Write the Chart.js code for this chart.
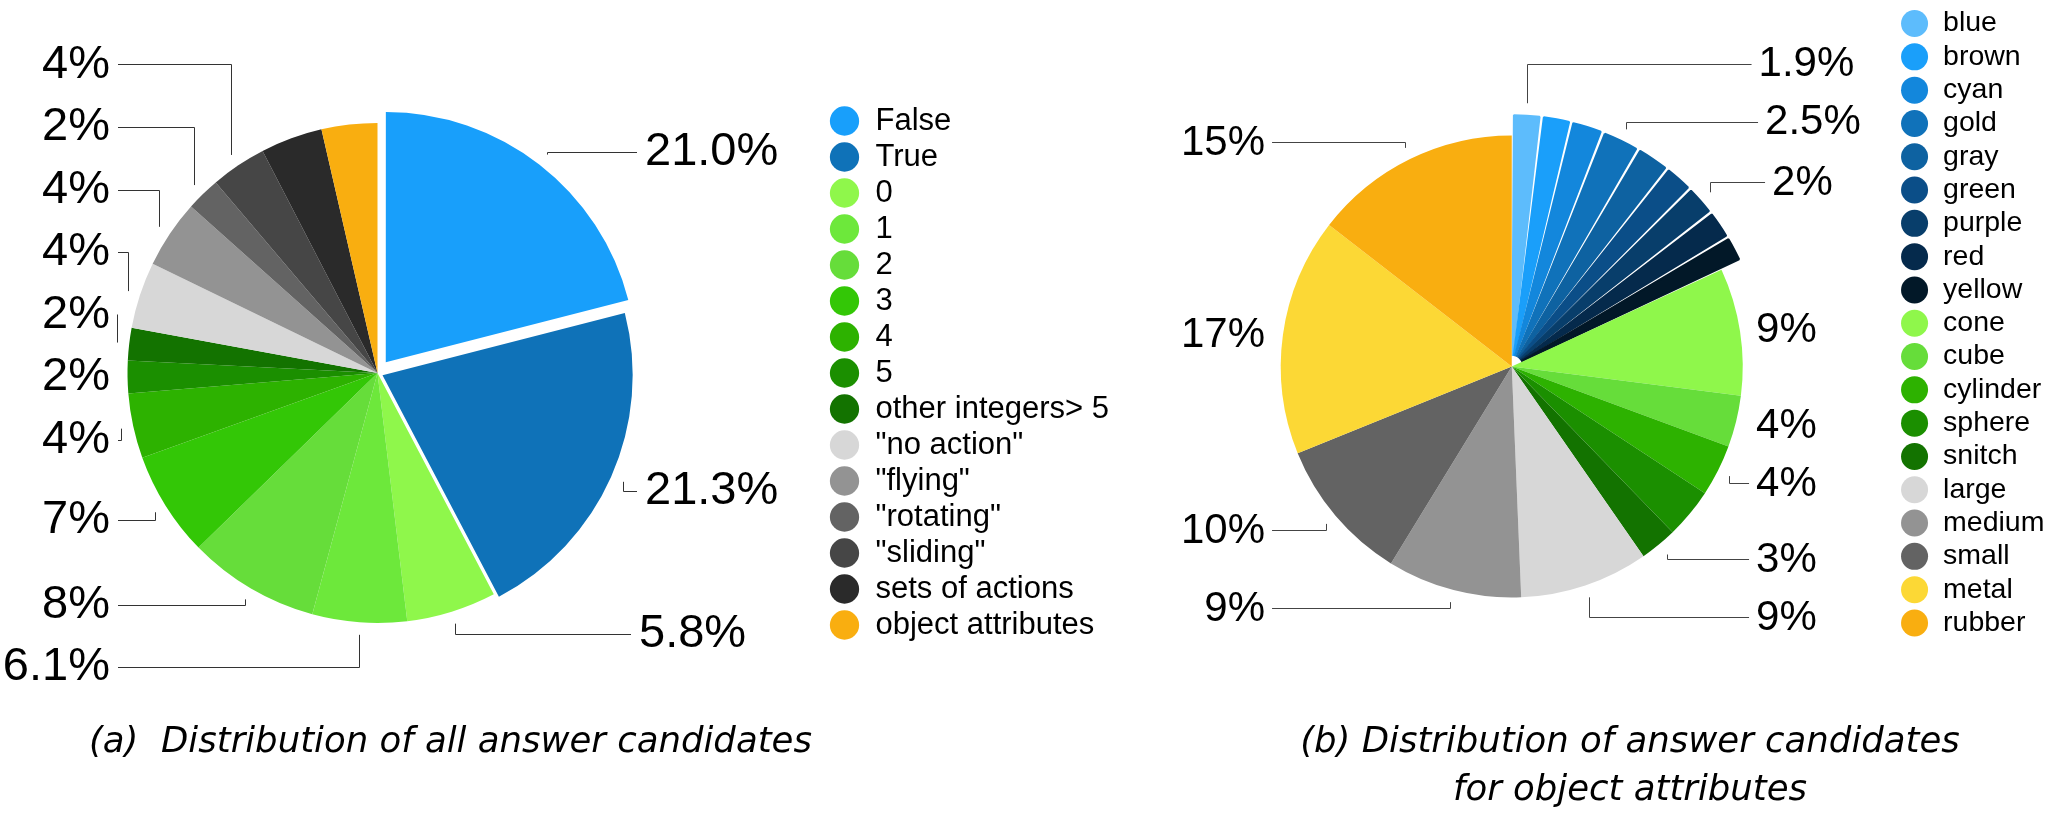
<!DOCTYPE html>
<html>
<head>
<meta charset="utf-8">
<script src="https://cdn.jsdelivr.net/npm/chart.js@4.4.1/dist/chart.umd.min.js"></script>
<style>
  html, body { margin: 0; padding: 0; background: #fff; }
  body { width: 2060px; height: 818px; position: relative; overflow: hidden; }
  #chartA { position: absolute; left: -69px; top: 0; }
  #chartB { position: absolute; left: 1128px; top: 0; }
  .cap { position: absolute; font-family: "DejaVu Sans", sans-serif; font-style: italic;
         font-size: 35.5px; line-height: 48px; color: #000; white-space: pre; }
</style>
</head>
<body>
<canvas id="chartA" width="1200" height="746"></canvas>
<canvas id="chartB" width="932" height="729"></canvas>
<div class="cap" style="left:89px; top:716px;">(a)  Distribution of all answer candidates</div>
<div class="cap" style="left:1230px; width:800px; text-align:center; top:716px;">(b) Distribution of answer candidates
for object attributes</div>
<script>
const FONT = '"Liberation Sans", Arial, Helvetica, sans-serif';

// ---------- (a) all answer candidates ----------
const answerCategories = ['False', 'True', '0', '1', '2', '3', '4', '5', 'other integers> 5',
  '"no action"', '"flying"', '"rotating"', '"sliding"', 'sets of actions', 'object attributes'];
const answerShares = [21.0, 21.3, 5.8, 6.1, 8.5, 6.8, 4.2, 2.1, 2.1, 4.3, 4.4, 2.2, 3.6, 4.0, 3.6];
const answerLabelTexts = ['21.0%', '21.3%', '5.8%', '6.1%', '8%', '7%', '4%', '2%', '2%', '4%', '4%', '2%', '4%', '', ''];
const answerColors = ['#189ffb', '#0f72b8', '#8ff74b', '#6de83b', '#66dd3a', '#33c706', '#2db200', '#1b8f00',
  '#137300', '#d7d7d7', '#939393', '#636363', '#464646', '#2a2a2a', '#f9ae10'];

// ---------- (b) object attribute candidates ----------
const attrCategories = ['blue', 'brown', 'cyan', 'gold', 'gray', 'green', 'purple', 'red', 'yellow',
  'cone', 'cube', 'cylinder', 'sphere', 'snitch', 'large', 'medium', 'small', 'metal', 'rubber'];
const attrShares = [1.9, 1.9, 2.1, 2.5, 2.2, 1.9, 2.0, 1.9, 1.7, 8.9, 3.6, 3.6, 3.5, 2.6, 9.0, 9.4, 10.1, 16.6, 14.5];
const attrLabelTexts = ['1.9%', '', '', '2.5%', '', '', '2%', '', '', '9%', '4%', '4%', '', '3%', '9%', '9%', '10%', '17%', '15%'];
const attrColors = ['#5dbcfc', '#1a9ffa', '#1387dc', '#1072ba', '#0e62a1', '#0b4e88', '#083e6b', '#052a4c', '#021828',
  '#8ff74b', '#66dd3a', '#2db200', '#1b8f00', '#137300', '#d7d7d7', '#939393', '#636363', '#fcd835', '#f9ae10'];

// label placement (annotation layout, relative to the pie centre)
const answerLabelLayout = [
  {i: 0, dx: 267.5, dy: -220.5},
  {i: 1, dx: 267.5, dy: 118.5},
  {i: 2, dx: 261.5, dy: 261.5},
  {i: 3, dx: -267.5, dy: 294.5},
  {i: 4, dx: -267.5, dy: 232.5},
  {i: 5, dx: -267.5, dy: 147.5},
  {i: 6, dx: -267.5, dy: 67.5},
  {i: 7, dx: -267.5, dy: 4.5, leader: false},
  {i: 8, dx: -267.5, dy: -57.5},
  {i: 9, dx: -267.5, dy: -120.5},
  {i: 10, dx: -267.5, dy: -182.5},
  {i: 11, dx: -267.5, dy: -245.5},
  {i: 12, dx: -267.5, dy: -307.8}
];
const attrLabelLayout = [
  {i: 0, dx: 246.8, dy: -301.8},
  {i: 3, dx: 253.3, dy: -243.7},
  {i: 6, dx: 260.3, dy: -183.5},
  {i: 9, dx: 244.3, dy: -36.5, leader: false},
  {i: 10, dx: 244.3, dy: 59.5, leader: false},
  {i: 11, dx: 244.3, dy: 117.5},
  {i: 13, dx: 244.3, dy: 193.5},
  {i: 14, dx: 244.3, dy: 251.5},
  {i: 15, dx: -246.7, dy: 242.5},
  {i: 16, dx: -246.7, dy: 164.5},
  {i: 17, dx: -246.7, dy: -31.5, leader: false},
  {i: 18, dx: -246.7, dy: -223.5}
];

const sliceLabels = {
  id: 'sliceLabels',
  afterDatasetsDraw(chart, args, opts) {
    const ctx = chart.ctx;
    const meta = chart.getDatasetMeta(0);
    ctx.save();
    ctx.font = opts.fontSize + 'px ' + FONT;
    ctx.fillStyle = '#000';
    ctx.textBaseline = 'middle';
    ctx.strokeStyle = opts.lineColor;
    ctx.lineWidth = opts.lineWidth;
    const snap = v => Math.round(v) + 0.5;
    opts.layout.forEach(item => {
      const arc = meta.data[item.i];
      const text = opts.texts[item.i];
      if (!arc || !text) return;
      const mid = (arc.startAngle + arc.endAngle) / 2;
      const off = (arc.options.offset || 0) / 4;
      const circ = arc.endAngle - arc.startAngle;
      const fix = 1 - Math.sin(Math.min(Math.PI, circ));
      const dist = off + arc.outerRadius + off * fix + opts.gap;
      const ex = arc.x + Math.cos(mid) * dist;
      const ey = arc.y + Math.sin(mid) * dist;
      const tx = arc.x + item.dx;
      const ty = arc.y + item.dy;
      const left = item.dx < 0;
      ctx.textAlign = left ? 'right' : 'left';
      ctx.fillText(text, tx, ty);
      if (item.leader === false) return;
      const ly = ty - 1;
      const lineEdge = left ? tx + opts.textGap : tx - opts.textGap;
      ctx.beginPath();
      const horiz = left ? (ex > lineEdge + 1) : (ex < lineEdge - 1);
      if (horiz) {
        ctx.moveTo(lineEdge, snap(ly));
        ctx.lineTo(snap(ex), snap(ly));
        ctx.lineTo(snap(ex), ey);
      } else {
        ctx.moveTo(snap(ex), ey);
        ctx.lineTo(snap(ex), ly);
      }
      ctx.stroke();
    });
    ctx.restore();
  }
};

function legendItems(chart) {
  const ds = chart.data.datasets[0];
  return chart.data.labels.map((text, i) => ({
    text: text,
    fillStyle: ds.backgroundColor[i],
    strokeStyle: ds.backgroundColor[i],
    lineWidth: 0,
    pointStyle: 'circle',
    hidden: false,
    index: i,
    datasetIndex: 0,
    fontColor: '#000',
    textAlign: 'left'
  }));
}

// width Chart.js will give a one-column legend (used to place the pie centre)
function legendBoxWidth(labels, size, boxWidth, pad) {
  const c = document.createElement('canvas').getContext('2d');
  c.font = size + 'px ' + FONT;
  let w = 0;
  labels.forEach(t => { w = Math.max(w, c.measureText(t).width); });
  return pad + boxWidth + size / 2 + w + 10;
}

const A = { W: 1200, areaRight: 893, font: 31, box: 31, pad: 5.0 };
const lwA = legendBoxWidth(answerCategories, A.font, A.box, A.pad);
const B = { W: 932, areaRight: 767.5, font: 28.5, box: 28.5, pad: 4.8 };
const lwB = legendBoxWidth(attrCategories, B.font, B.box, B.pad);

new Chart(document.getElementById('chartA'), {
  type: 'pie',
  data: {
    labels: answerCategories,
    datasets: [{
      data: answerShares,
      backgroundColor: answerColors,
      borderWidth: 0,
      offset: [54, 22, 0, 0, 0, 0, 0, 0, 0, 0, 0, 0, 0, 0, 0]
    }]
  },
  options: {
    responsive: false,
    animation: false,
    events: [],
    radius: 250,
    layout: { padding: { left: 0, right: A.W - A.areaRight - lwA, top: 0, bottom: 0 } },
    plugins: {
      tooltip: { enabled: false },
      legend: {
        position: 'right',
        align: 'center',
        labels: {
          usePointStyle: true, pointStyle: 'circle',
          boxWidth: A.box, boxHeight: 20.7, padding: A.pad,
          color: '#000', font: { family: FONT, size: A.font },
          generateLabels: legendItems
        }
      },
      sliceLabels: {
        texts: answerLabelTexts, layout: answerLabelLayout,
        fontSize: 47, gap: 12.5, textGap: 8, lineColor: '#333', lineWidth: 1
      }
    }
  },
  plugins: [sliceLabels]
});

new Chart(document.getElementById('chartB'), {
  type: 'pie',
  data: {
    labels: attrCategories,
    datasets: [{
      data: attrShares,
      backgroundColor: attrColors,
      borderColor: attrColors,
      borderWidth: [2, 2, 2, 2, 2, 2, 2, 2, 2, 0, 0, 0, 0, 0, 0, 0, 0, 0, 0],
      offset: [43, 43, 43, 43, 43, 43, 43, 43, 43, 0, 0, 0, 0, 0, 0, 0, 0, 0, 0]
    }]
  },
  options: {
    responsive: false,
    animation: false,
    events: [],
    radius: 231,
    layout: { padding: { left: 0, right: Math.max(0, B.W - B.areaRight - lwB), top: 4.5, bottom: 0.5 } },
    plugins: {
      tooltip: { enabled: false },
      legend: {
        position: 'right',
        align: 'start',
        labels: {
          usePointStyle: true, pointStyle: 'circle',
          boxWidth: B.box, boxHeight: 19.1, padding: B.pad,
          color: '#000', font: { family: FONT, size: B.font },
          generateLabels: legendItems
        }
      },
      sliceLabels: {
        texts: attrLabelTexts, layout: attrLabelLayout,
        fontSize: 42, gap: 12.5, textGap: 7, lineColor: '#444', lineWidth: 1
      }
    }
  },
  plugins: [sliceLabels]
});
</script>
</body>
</html>
